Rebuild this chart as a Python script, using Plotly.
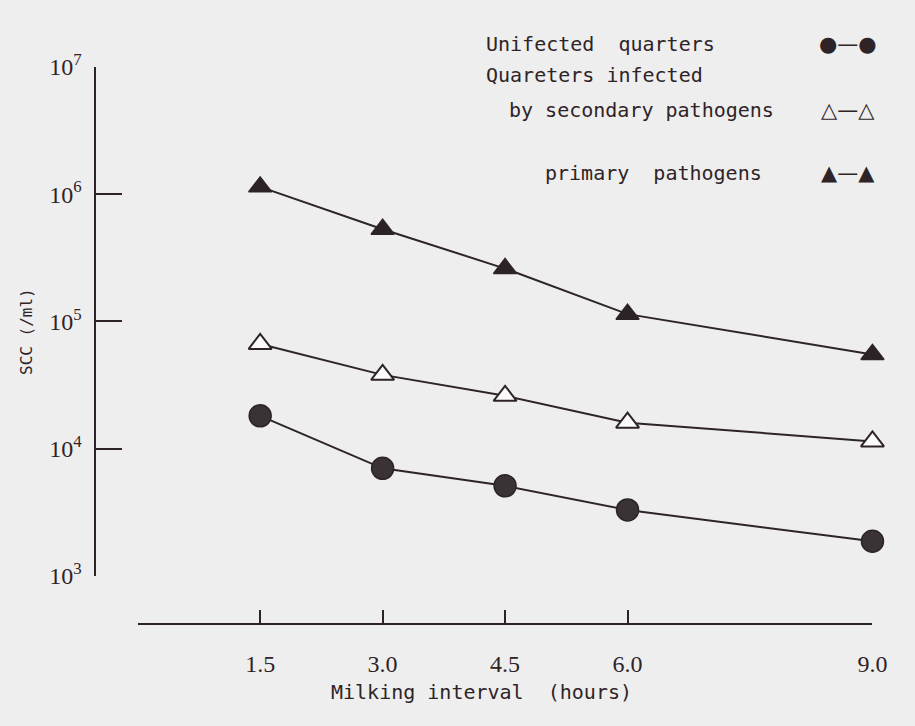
import plotly.graph_objects as go

# ---- data ----
hours = [1.5, 3.0, 4.5, 6.0, 9.0]
uninfected = [1.81e4, 7.0e3, 5.1e3, 3.3e3, 1.87e3]
secondary = [6.65e4, 3.8e4, 2.6e4, 1.6e4, 1.14e4]
primary = [1.14e6, 5.3e5, 2.6e5, 1.14e5, 5.5e4]

x_tickvals = [0, 1.5, 3.0, 4.5, 6.0, 9.0]
x_ticktext = ["", "1.5", "3.0", "4.5", "6.0", "9.0"]
y_tickvals = [1e3, 1e4, 1e5, 1e6, 1e7]
y_ticktext = ["10<sup>3</sup>", "10<sup>4</sup>", "10<sup>5</sup>", "10<sup>6</sup>", "10<sup>7</sup>"]

legend_labels = ["Unifected  quarters", "Quareters infected", "by secondary pathogens", "primary  pathogens"]
legend_symbols = ["●—●", "△—△", "▲—▲"]

W, H = 915, 726
INK = "#2e2427"
BG = "#eeeeee"
MONO = "DejaVu Sans Mono"
SERIF = "Liberation Serif"


def px(x):
    return x / W


def py(y):
    return 1 - y / H


fig = go.Figure()

fig.add_trace(go.Scatter(
    x=hours, y=uninfected, mode="lines+markers", cliponaxis=False,
    line=dict(color=INK, width=2),
    marker=dict(symbol="circle", size=22, color="#3a3336", line=dict(color=INK, width=1.5)),
    showlegend=False))
fig.add_trace(go.Scatter(
    x=hours, y=secondary, mode="lines+markers", cliponaxis=False,
    line=dict(color=INK, width=2),
    marker=dict(symbol="triangle-up", size=20, color="#fbfbfb", line=dict(color=INK, width=2)),
    showlegend=False))
fig.add_trace(go.Scatter(
    x=hours, y=primary, mode="lines+markers", cliponaxis=False,
    line=dict(color=INK, width=2),
    marker=dict(symbol="triangle-up", size=20, color="#2b2326", line=dict(color=INK, width=1.5)),
    showlegend=False))

annotations = []
# legend texts
leg_pos = [(492, 28), (492, 60), (515, 97), (552, 163)]
for (lx, ly), t in zip(leg_pos, legend_labels):
    annotations.append(dict(x=px(lx), y=py(ly), xref="paper", yref="paper", text=t,
                            showarrow=False, xanchor="left", yanchor="middle",
                            font=dict(family=MONO, size=20, color=INK)))
sym_pos = [28, 97, 163]
for sy, s in zip(sym_pos, legend_symbols):
    annotations.append(dict(x=px(862), y=py(sy), xref="paper", yref="paper", text=s,
                            showarrow=False, xanchor="center", yanchor="middle",
                            font=dict(family="DejaVu Sans", size=21, color=INK)))
# axis titles
annotations.append(dict(x=px(490), y=py(704), xref="paper", yref="paper",
                        text="Milking interval  (hours)", showarrow=False,
                        xanchor="center", yanchor="middle",
                        font=dict(family=MONO, size=20, color=INK)))
annotations.append(dict(x=px(27), y=py(328), xref="paper", yref="paper",
                        text="SCC (/ml)", showarrow=False, textangle=-90,
                        xanchor="center", yanchor="middle",
                        font=dict(family=MONO, size=16, color=INK)))

fig.update_layout(
    width=W, height=H, autosize=False,
    margin=dict(l=0, r=0, t=0, b=0),
    paper_bgcolor=BG, plot_bgcolor=BG,
    showlegend=False,
    annotations=annotations,
    xaxis=dict(
        domain=[px(140), px(887)], range=[0, 9], anchor="free", position=py(633),
        showline=True, linecolor=INK, linewidth=2, mirror=False,
        ticks="inside", ticklen=13, tickwidth=2, tickcolor=INK,
        tickvals=x_tickvals, ticktext=x_ticktext,
        tickfont=dict(family=SERIF, size=24, color=INK), ticklabelstandoff=18,
        showgrid=False, zeroline=False, fixedrange=True,
    ),
    yaxis=dict(
        type="log", range=[3, 7], domain=[py(583), py(52)], anchor="free", position=px(97),
        showline=True, linecolor=INK, linewidth=2,
        ticks="inside", ticklen=26, tickwidth=2, tickcolor=INK,
        tickvals=y_tickvals, ticktext=y_ticktext,
        tickfont=dict(family=SERIF, size=24, color=INK), ticklabelstandoff=8,
        showgrid=False, zeroline=False, fixedrange=True,
    ),
)

post = ("document.documentElement.style.margin='0';document.documentElement.style.padding='0';"
        "document.body.style.margin='0';document.body.style.padding='0';"
        "document.documentElement.style.overflow='hidden';document.body.style.overflow='hidden';")
fig.write_html("out.html", post_script=post)
